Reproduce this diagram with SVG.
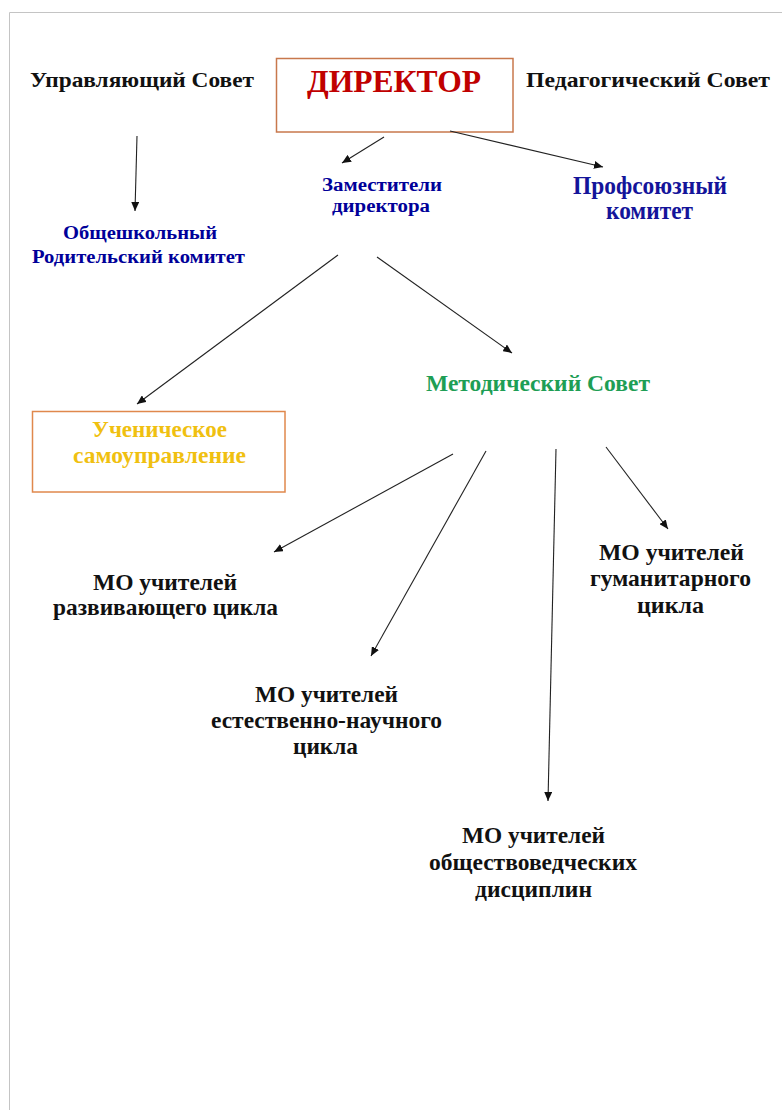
<svg xmlns="http://www.w3.org/2000/svg" width="782" height="1110" viewBox="0 0 782 1110">
<style>
text{font-family:"Liberation Serif","Times New Roman",serif;font-weight:bold;text-anchor:middle}
.blk{fill:#111;font-size:22px}
.dblue{fill:#000099;font-size:18px}
.dblue2{fill:#000099;font-size:19px}
.blue{fill:#14149a;font-size:25px}
.green{fill:#1e9e55;font-size:23px}
.gold{fill:#f0c010;font-size:23px}
.mo{fill:#111;font-size:24px}
.conn line{stroke:#222;stroke-width:1.1;marker-end:url(#ah)}
</style>
<defs>
<marker id="ah" markerUnits="userSpaceOnUse" markerWidth="10" markerHeight="8" refX="9" refY="4" orient="auto">
<path d="M0,0 L9,4 L0,8 Z" fill="#111"/>
</marker>
</defs>
<rect width="782" height="1110" fill="#fff"/>
<path d="M9.5,1110 V12.5 H782" fill="none" stroke="#c4c4c4" stroke-width="1"/>
<g id="upr-sovet"><text class="blk" x="142" y="86.5" textLength="224" lengthAdjust="spacingAndGlyphs">Управляющий Совет</text></g>
<g id="direktor">
<rect x="276.5" y="58.5" width="236.5" height="73.5" fill="#fff" stroke="#c8784c" stroke-width="1.5"/>
<text x="394" y="92" font-size="31" fill="#c00000" textLength="174" lengthAdjust="spacingAndGlyphs">ДИРЕКТОР</text>
</g>
<g id="ped-sovet"><text class="blk" x="648" y="86.5" textLength="244" lengthAdjust="spacingAndGlyphs">Педагогический Совет</text></g>
<g id="rod-komitet">
<text class="dblue2" x="140" y="239" textLength="154" lengthAdjust="spacingAndGlyphs">Общешкольный</text>
<text class="dblue2" x="138.5" y="263" textLength="213" lengthAdjust="spacingAndGlyphs">Родительский комитет</text>
</g>
<g id="zamestiteli">
<text class="dblue" x="382" y="190.5" textLength="120" lengthAdjust="spacingAndGlyphs">Заместители</text>
<text class="dblue" x="381" y="212" textLength="98" lengthAdjust="spacingAndGlyphs">директора</text>
</g>
<g id="profkom">
<text class="blue" x="650" y="194" textLength="154" lengthAdjust="spacingAndGlyphs">Профсоюзный</text>
<text class="blue" x="649.5" y="219" textLength="87" lengthAdjust="spacingAndGlyphs">комитет</text>
</g>
<g id="metod-sovet"><text class="green" x="538" y="391" textLength="224" lengthAdjust="spacingAndGlyphs">Методический Совет</text></g>
<g id="uchen-samoupr">
<rect x="32.5" y="411.5" width="252.5" height="80.5" fill="#fff" stroke="#e0884c" stroke-width="1.5"/>
<text class="gold" x="159.5" y="437" textLength="135" lengthAdjust="spacingAndGlyphs">Ученическое</text>
<text class="gold" x="159.5" y="463" textLength="173" lengthAdjust="spacingAndGlyphs">самоуправление</text>
</g>
<g id="mo-razv">
<text class="mo" x="165" y="589.5" textLength="144" lengthAdjust="spacingAndGlyphs">МО учителей</text>
<text class="mo" x="165.5" y="615" textLength="225" lengthAdjust="spacingAndGlyphs">развивающего цикла</text>
</g>
<g id="mo-estnauch">
<text class="mo" x="326.5" y="702" textLength="143" lengthAdjust="spacingAndGlyphs">МО учителей</text>
<text class="mo" x="326.5" y="728" textLength="231" lengthAdjust="spacingAndGlyphs">естественно-научного</text>
<text class="mo" x="325.5" y="754" textLength="65" lengthAdjust="spacingAndGlyphs">цикла</text>
</g>
<g id="mo-gum">
<text class="mo" x="671.5" y="560" textLength="145" lengthAdjust="spacingAndGlyphs">МО учителей</text>
<text class="mo" x="670.5" y="586" textLength="161" lengthAdjust="spacingAndGlyphs">гуманитарного</text>
<text class="mo" x="670.5" y="613" textLength="67" lengthAdjust="spacingAndGlyphs">цикла</text>
</g>
<g id="mo-obsch">
<text class="mo" x="533.5" y="843" textLength="143" lengthAdjust="spacingAndGlyphs">МО учителей</text>
<text class="mo" x="533" y="870" textLength="208" lengthAdjust="spacingAndGlyphs">обществоведческих</text>
<text class="mo" x="533.5" y="897" textLength="117" lengthAdjust="spacingAndGlyphs">дисциплин</text>
</g>
<g id="connectors" class="conn">
<line x1="137" y1="136" x2="135" y2="211"/>
<line x1="384" y1="137" x2="342" y2="163"/>
<line x1="450" y1="131" x2="603" y2="167"/>
<line x1="338" y1="255" x2="137" y2="404"/>
<line x1="377" y1="257" x2="512" y2="353"/>
<line x1="453" y1="454" x2="274" y2="552"/>
<line x1="486" y1="451" x2="371" y2="656"/>
<line x1="556" y1="449" x2="548" y2="801"/>
<line x1="606" y1="447" x2="668" y2="529"/>
</g>
</svg>
